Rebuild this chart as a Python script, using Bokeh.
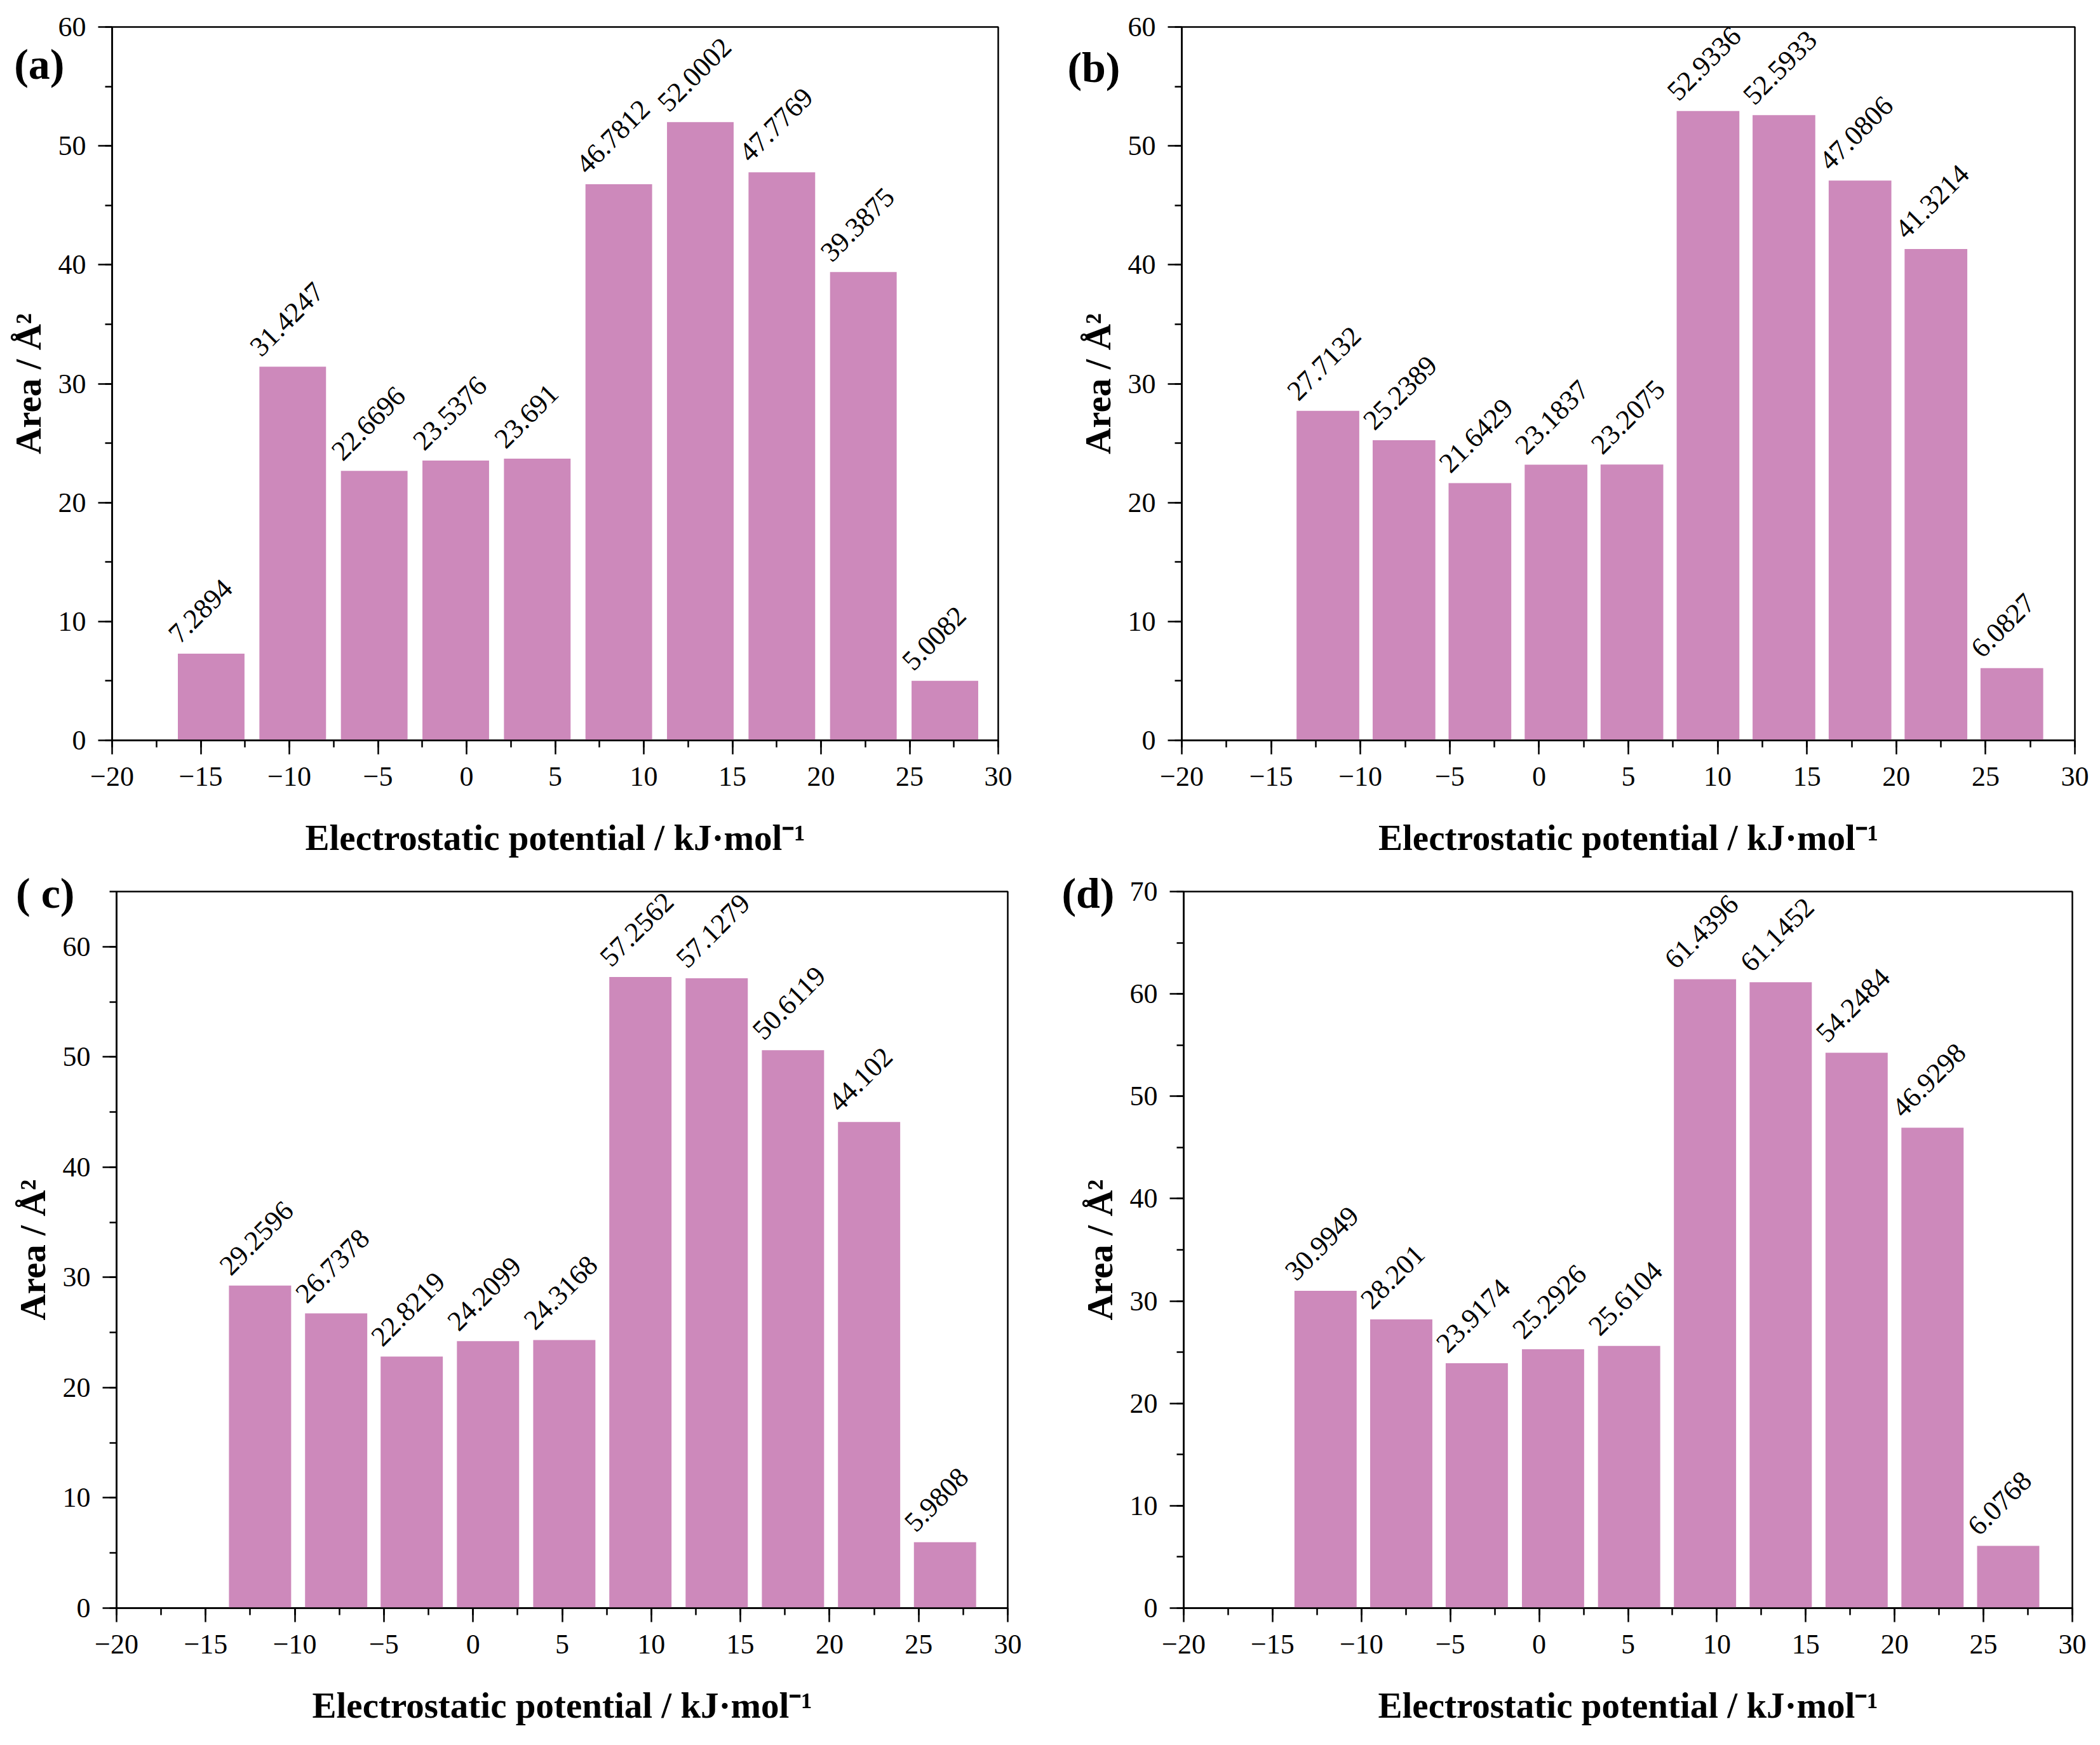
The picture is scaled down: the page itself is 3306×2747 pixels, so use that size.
from bokeh.plotting import figure
from bokeh.models import (ColumnDataSource, LabelSet, SingleIntervalTicker, FixedTicker,
                          Range1d, LinearAxis)
from bokeh.core.properties import value
from bokeh.layouts import column, row
from bokeh.embed import file_html
from bokeh.resources import INLINE

# ---------------- data ----------------
x_ticks = [-20, -15, -10, -5, 0, 5, 10, 15, 20, 25, 30]
x_tick_labels = ["\u221220", "\u221215", "\u221210", "\u22125", "0", "5", "10", "15", "20", "25", "30"]

a_centers = [-14.41, -9.81, -5.21, -0.61, 3.99, 8.59, 13.19, 17.79, 22.39, 26.99]
a_areas = [7.2894, 31.4247, 22.6696, 23.5376, 23.691, 46.7812, 52.0002, 47.7769, 39.3875, 5.0082]

b_centers = [-11.82, -7.56, -3.31, 0.95, 5.20, 9.46, 13.71, 17.97, 22.22, 26.47]
b_areas = [27.7132, 25.2389, 21.6429, 23.1837, 23.2075, 52.9336, 52.5933, 47.0806, 41.3214, 6.0827]

c_centers = [-11.95, -7.68, -3.44, 0.84, 5.12, 9.39, 13.67, 17.95, 22.22, 26.48]
c_areas = [29.2596, 26.7378, 22.8219, 24.2099, 24.3168, 57.2562, 57.1279, 50.6119, 44.102, 5.9808]

d_centers = [-12.02, -7.76, -3.51, 0.78, 5.06, 9.33, 13.59, 17.86, 22.13, 26.39]
d_areas = [30.9949, 28.201, 23.9174, 25.2926, 25.6104, 61.4396, 61.1452, 54.2484, 46.9298, 6.0768]

bin_widths = [3.76, 3.51, 3.49, 3.50]
y_tops = [60, 60, 65, 70]
panel_letters = ["(a)", "(b)", "( c)", "(d)"]

x_label = "Electrostatic potential / kJ\u00b7mol\u207b\u00b9"
y_label = "Area / \u00c5\u00b2"

# ---------------- style ----------------
FONT = "Liberation Serif"
BAR = "#CD89BB"
LW = 2.5


def make_panel(centers, areas, bw, ytop, letter, size, borders, letter_y, letter_standoff):
    w, h = size
    bl, br, bt, bb = borders
    p = figure(width=w, height=h, x_range=Range1d(-20, 30), y_range=Range1d(0, ytop),
               output_backend="svg", toolbar_location=None, title=None,
               min_border_left=bl, min_border_right=br, min_border_top=bt, min_border_bottom=bb)
    p.background_fill_color = "white"
    p.border_fill_color = "white"
    p.xgrid.visible = False
    p.ygrid.visible = False
    p.outline_line_color = "black"
    p.outline_line_width = LW
    p.outline_line_alpha = 1.0

    src = ColumnDataSource(dict(
        x=centers,
        top=areas,
        lx=[c - bw / 2 for c in centers],
        label=[str(v) for v in areas],
    ))
    p.vbar(x="x", top="top", bottom=0, width=bw, source=src,
           fill_color=BAR, line_color=None)

    labels = LabelSet(x="lx", y="top", text="label", source=src,
                      angle=45, angle_units="deg", x_offset=3, y_offset=14,
                      text_font=value(FONT), text_font_size=value("44px"), text_color="black",
                      text_align="left", text_baseline="alphabetic")
    p.add_layout(labels)

    p.xaxis.ticker = SingleIntervalTicker(interval=5, num_minor_ticks=2)
    p.yaxis.ticker = SingleIntervalTicker(interval=10, num_minor_ticks=2)
    p.xaxis.major_label_overrides = {t: s for t, s in zip(x_ticks, x_tick_labels)}

    for ax in (p.xaxis, p.yaxis):
        ax.axis_line_color = "black"
        ax.axis_line_width = LW
        ax.major_tick_line_color = "black"
        ax.major_tick_line_width = LW
        ax.minor_tick_line_color = "black"
        ax.minor_tick_line_width = LW
        ax.major_tick_in = 0
        ax.major_tick_out = 22
        ax.minor_tick_in = 0
        ax.minor_tick_out = 11
        ax.major_label_text_font = FONT
        ax.major_label_text_font_size = "44px"
        ax.major_label_text_color = "black"
        ax.axis_label_text_font = FONT
        ax.axis_label_text_font_size = "57px"
        ax.axis_label_text_font_style = "bold"
        ax.axis_label_text_color = "black"

    p.xaxis.axis_label = x_label
    p.yaxis.axis_label = y_label
    p.xaxis.major_label_standoff = 20
    p.xaxis.axis_label_standoff = 47
    p.yaxis.major_label_standoff = 19
    p.yaxis.axis_label_standoff = 13

    # panel letter, drawn as the single tick label of an extra, otherwise invisible axis
    lax = LinearAxis(ticker=FixedTicker(ticks=[letter_y]),
                     major_label_overrides={letter_y: letter},
                     bounds=(letter_y - 1, letter_y + 1),
                     axis_line_color=None, major_tick_line_color=None, minor_tick_line_color=None,
                     major_tick_in=0, major_tick_out=0, minor_tick_in=0, minor_tick_out=0,
                     major_label_standoff=letter_standoff,
                     major_label_text_font=FONT, major_label_text_font_size="68px",
                     major_label_text_font_style="bold", major_label_text_color="black")
    p.add_layout(lax, "left")
    return p


pa = make_panel(a_centers, a_areas, bin_widths[0], y_tops[0], panel_letters[0],
                (1640, 1366), (176, 69, 42, 200), 56.85, -92)
pb = make_panel(b_centers, b_areas, bin_widths[1], y_tops[1], panel_letters[1],
                (1664, 1366), (220, 38, 32, 201), 56.61, -70)
pc = make_panel(c_centers, c_areas, bin_widths[2], y_tops[2], panel_letters[2],
                (1640, 1379), (183, 54, 34, 214), 65, -101)
pd = make_panel(d_centers, d_areas, bin_widths[3], y_tops[3], panel_letters[3],
                (1664, 1379), (223, 42, 37, 214), 70, -58)

layout = column(row(pa, pb), row(pc, pd))

open("out.html", "w").write(file_html(layout, INLINE))
